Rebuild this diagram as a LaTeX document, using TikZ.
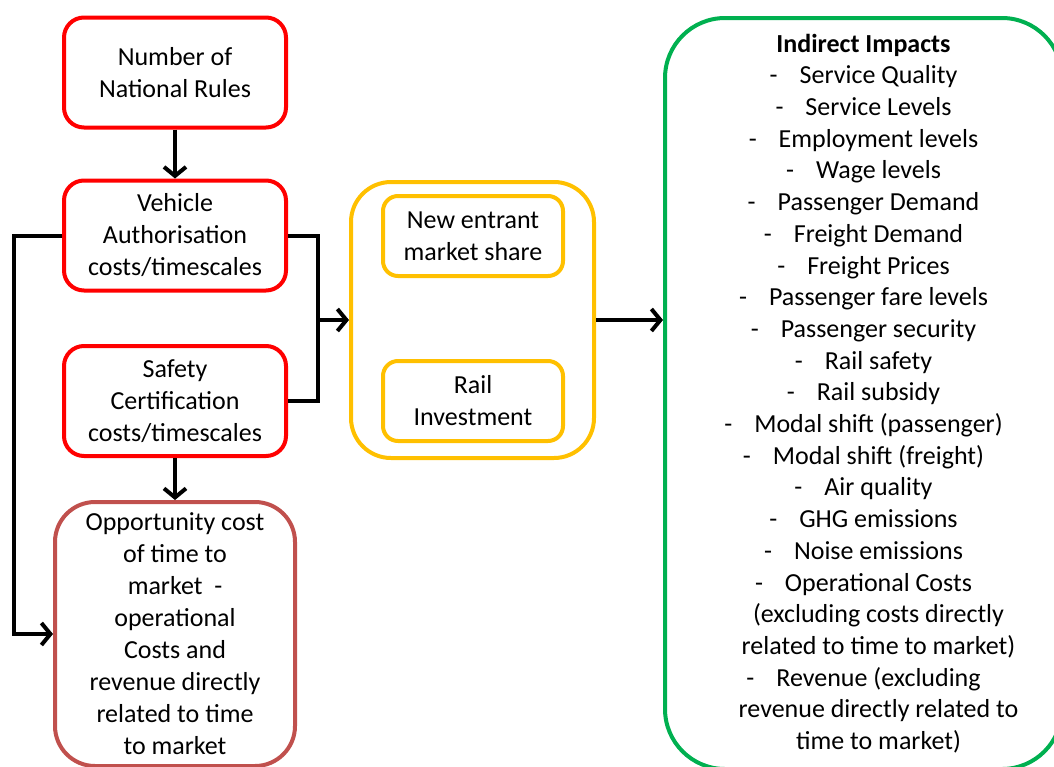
\documentclass[tikz,border=0pt]{standalone}
\usepackage{fontspec}
\setmainfont{Carlito}
\usetikzlibrary{arrows.meta}
\definecolor{boxred}{HTML}{FF0000}
\definecolor{boxbrown}{HTML}{C0504D}
\definecolor{boxyellow}{HTML}{FFC000}
\definecolor{boxgreen}{HTML}{00B050}
\newcommand{\dsh}{-\hspace{22pt}}
\newcommand{\cnt}{\hspace*{30pt}}
\begin{document}
\begin{tikzpicture}[x=1pt,y=-1pt,
  txt/.style={font=\fontsize{26}{32}\selectfont, align=center, text=black, inner sep=0pt},
  redbox/.style={txt, draw=boxred, line width=4pt, rounded corners=20pt, minimum width=222pt, minimum height=110pt},
  brownbox/.style={txt, draw=boxbrown, line width=4pt, rounded corners=40pt},
  yelbox/.style={txt, draw=boxyellow, line width=4pt, rounded corners=40pt},
  yelsub/.style={txt, draw=boxyellow, line width=4pt, rounded corners=15pt, minimum width=180pt, minimum height=80pt},
  grnbox/.style={txt, font=\fontsize{26}{31.7}\selectfont, draw=boxgreen, line width=4pt, rounded corners=60pt},
  conn/.style={line width=4pt, draw=black},
  arr/.style={conn, -{Straight Barb[length=9pt,width=22pt]}}]
\useasboundingbox (0,0) rectangle (1054,766);
\clip (0,0) rectangle (1054,766);

\node[redbox] (nr) at (175,72.5) {Number of\\National Rules};
\node[redbox] (va) at (175,235.5) {Vehicle\\Authorisation\\costs/timescales};
\node[redbox] (sc) at (175,401) {Safety\\Certification\\costs/timescales};
\node[brownbox, minimum width=240pt, minimum height=264pt] (oc) at (175,634)
  {Opportunity cost\\of time to\\market\ \ -\\operational\\Costs and\\revenue directly\\related to time\\to market};

\node[yelbox, minimum width=243pt, minimum height=276pt] (ys) at (472.5,320) {};
\node[yelsub] (ne) at (473,236) {New entrant\\market share};
\node[yelsub] (ri) at (473,401) {Rail\\Investment};

\node[grnbox, minimum width=397pt, minimum height=751pt] (ii) at (863.5,393.5)
  {\textbf{Indirect Impacts}\\
   \dsh Service Quality\\
   \dsh Service Levels\\
   \dsh Employment levels\\
   \dsh Wage levels\\
   \dsh Passenger Demand\\
   \dsh Freight Demand\\
   \dsh Freight Prices\\
   \dsh Passenger fare levels\\
   \dsh Passenger security\\
   \dsh Rail safety\\
   \dsh Rail subsidy\\
   \dsh Modal shift (passenger)\\
   \dsh Modal shift (freight)\\
   \dsh Air quality\\
   \dsh GHG emissions\\
   \dsh Noise emissions\\
   \dsh Operational Costs\\
   \cnt(excluding costs directly\\
   \cnt related to time to market)\\
   \dsh Revenue (excluding\\
   \cnt revenue directly related to\\
   \cnt time to market)};

\coordinate (j) at (318,320);
\coordinate (lft) at (14,235.5);

\draw[arr] (nr.south) -- (va.north);
\draw[arr] (sc.south) -- (oc.north);
\draw[arr] (va.west) -- (lft) |- (oc.west);
\draw[conn] (va.east) -| (j) |- (sc.east);
\draw[arr] (j) -- (ys.west);
\draw[arr] (ys.east) -- (ys.east -| ii.west);
\end{tikzpicture}
\end{document}
